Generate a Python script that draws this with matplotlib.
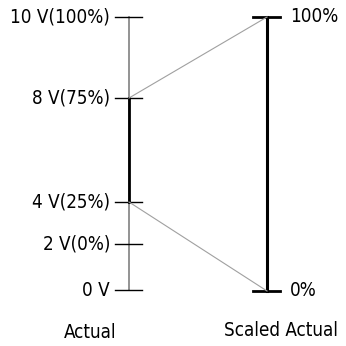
import matplotlib.pyplot as plt
from matplotlib import font_manager as fm

# condensed face if there is one, else plain Liberation Sans
names = {(f.name, str(f.stretch)) for f in fm.fontManager.ttflist}
if any(n == 'Liberation Sans Narrow' for n, s in names):
    family, stretch, fs = 'Liberation Sans Narrow', 'normal', 15
elif ('DejaVu Sans', 'condensed') in names:
    family, stretch, fs = 'DejaVu Sans', 'condensed', 13.5
else:
    family, stretch, fs = 'Liberation Sans', 'normal', 13.7
plt.rcParams['font.family'] = [family, 'DejaVu Sans']
plt.rcParams['font.stretch'] = stretch

# left scale: real input levels and where they sit on the drawing
actual_labels = ['0 V', '2 V(0%)', '4 V(25%)', '8 V(75%)', '10 V(100%)']
actual_pos = [56, 102, 144, 248, 329]
# right scale
scaled_labels = ['0%', '100%']
scaled_pos = [55, 329]
# the window of the actual range that is scaled (4 V .. 8 V)
window = [144, 248]

x_act, x_sc = 129, 267

fig = plt.figure(figsize=(3.46, 3.46), dpi=100)
ax = fig.add_axes([0, 0, 1, 1])
ax.set_xlim(0, 346)
ax.set_ylim(0, 346)
ax.axis('off')

# actual axis
ax.plot([x_act, x_act], [actual_pos[0], actual_pos[-1]], color='#808080', lw=1.2)
ax.plot([x_act, x_act], window, color='black', lw=2)
for p, lab in zip(actual_pos, actual_labels):
    ax.plot([x_act - 14, x_act + 13], [p, p], color='black', lw=1)
    ax.text(x_act - 19, p, lab, ha='right', va='center', fontsize=fs)

# scaled axis
ax.plot([x_sc, x_sc], scaled_pos, color='black', lw=2.2)
for p, lab in zip(scaled_pos, scaled_labels):
    ax.plot([x_sc - 14, x_sc + 13], [p, p], color='black', lw=2)
    ax.text(x_sc + 23, p, lab, ha='left', va='center', fontsize=fs)

# mapping lines
ax.plot([x_act, x_sc], [window[1], scaled_pos[1]], color='#a0a0a0', lw=0.8)
ax.plot([x_act, x_sc], [window[0], scaled_pos[0]], color='#a0a0a0', lw=0.8)

ax.text(90, 14, 'Actual', ha='center', va='center', fontsize=fs)
ax.text(281, 16, 'Scaled Actual', ha='center', va='center', fontsize=fs)

fig.savefig('out.png', dpi=100)
